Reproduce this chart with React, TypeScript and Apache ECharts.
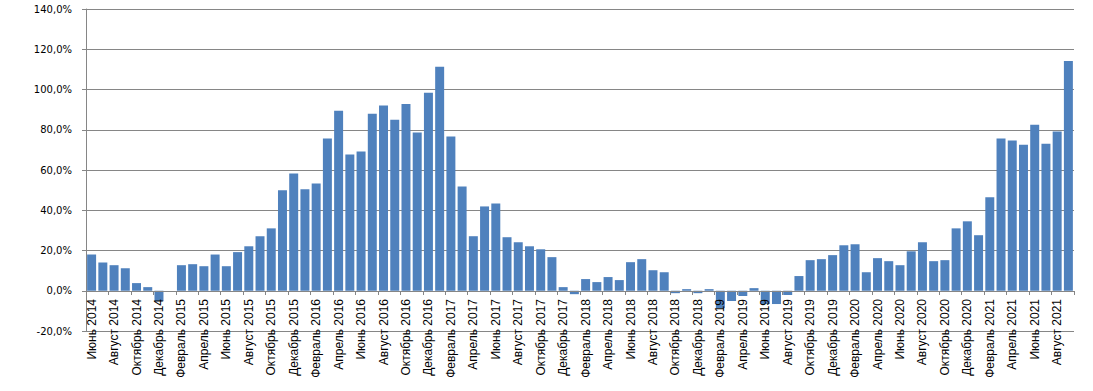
import React, { useEffect, useRef } from "react";
import * as echarts from "echarts";

const months = ["Январь", "Февраль", "Март", "Апрель", "Май", "Июнь", "Июль", "Август", "Сентябрь", "Октябрь", "Ноябрь", "Декабрь"];

// Categories: June 2014 .. September 2021
const categories: string[] = [];
for (let y = 2014; y <= 2021; y++) {
  for (let m = 0; m < 12; m++) {
    if (y === 2014 && m < 5) continue;
    if (y === 2021 && m > 8) continue;
    categories.push(months[m] + " " + y);
  }
}

const values2014 = [18.0, 14.0, 12.7, 11.2, 3.8, 1.8, -5.1];
const values2015 = [null, 12.7, 13.2, 12.2, 18.0, 12.2, 19.2, 22.1, 27.1, 31.0, 49.9, 58.3];
const values2016 = [50.4, 53.3, 75.6, 89.5, 67.7, 69.2, 88.0, 92.0, 85.0, 92.8, 78.6, 98.4];
const values2017 = [111.3, 76.6, 51.8, 27.1, 41.9, 43.4, 26.6, 24.1, 22.1, 20.6, 16.7, 1.8];
const values2018 = [-1.7, 5.8, 4.3, 6.8, 5.3, 14.2, 15.7, 10.2, 9.2, -1.2, 0.8, -1.2];
const values2019 = [0.8, -8.6, -5.1, -2.6, 1.3, -6.6, -6.6, -2.1, 7.3, 15.2, 15.7, 17.7];
const values2020 = [22.6, 23.1, 9.2, 16.2, 14.7, 12.7, 19.6, 24.1, 14.7, 15.2, 31.0, 34.5];
const values2021 = [27.6, 46.4, 75.6, 74.6, 72.6, 82.5, 73.1, 79.1, 114.2];

const values = [
  ...values2014, ...values2015, ...values2016, ...values2017,
  ...values2018, ...values2019, ...values2020, ...values2021,
];

export default function App() {
  const ref = useRef<HTMLDivElement>(null);
  useEffect(() => {
    if (!ref.current) return;
    const chart = echarts.init(ref.current, null, { renderer: "svg" });
    chart.setOption({
      animation: false,
      backgroundColor: "#ffffff",
      grid: { left: 86, right: 19, top: 9, bottom: 60, containLabel: false, outerBoundsMode: "none" },
      xAxis: {
        type: "category",
        data: categories,
        boundaryGap: true,
        position: "bottom",
        offset: -40,
        z: 5,
        axisLine: { onZero: false, lineStyle: { color: "#868686", width: 1 } },
        axisTick: { show: true, interval: 1, length: 4, lineStyle: { color: "#868686" } },
        axisLabel: {
          interval: 1,
          rotate: 90,
          margin: 8,
          color: "#000000",
          fontFamily: "Liberation Sans",
          fontSize: 12,
        },
        splitLine: { show: false },
      },
      yAxis: {
        type: "value",
        min: -20,
        max: 140,
        interval: 20,
        axisLine: { show: true, lineStyle: { color: "#868686", width: 1 } },
        axisTick: { show: true, length: 4, lineStyle: { color: "#868686" } },
        axisLabel: {
          margin: 14,
          color: "#000000",
          fontFamily: "DejaVu Sans",
          fontSize: 10,
          formatter: (v: number) => v.toFixed(1).replace(".", ",") + "%",
        },
        splitLine: { show: true, lineStyle: { color: "#868686", width: 1 } },
      },
      series: [
        {
          type: "bar",
          data: values,
          barCategoryGap: "20%",
          itemStyle: { color: "#4F81BD" },
        },
      ],
    });
    return () => chart.dispose();
  }, []);
  return (
    <div
      ref={ref}
      style={{ position: "fixed", left: 0, top: 0, width: 1093, height: 391, background: "#fff" }}
    />
  );
}
